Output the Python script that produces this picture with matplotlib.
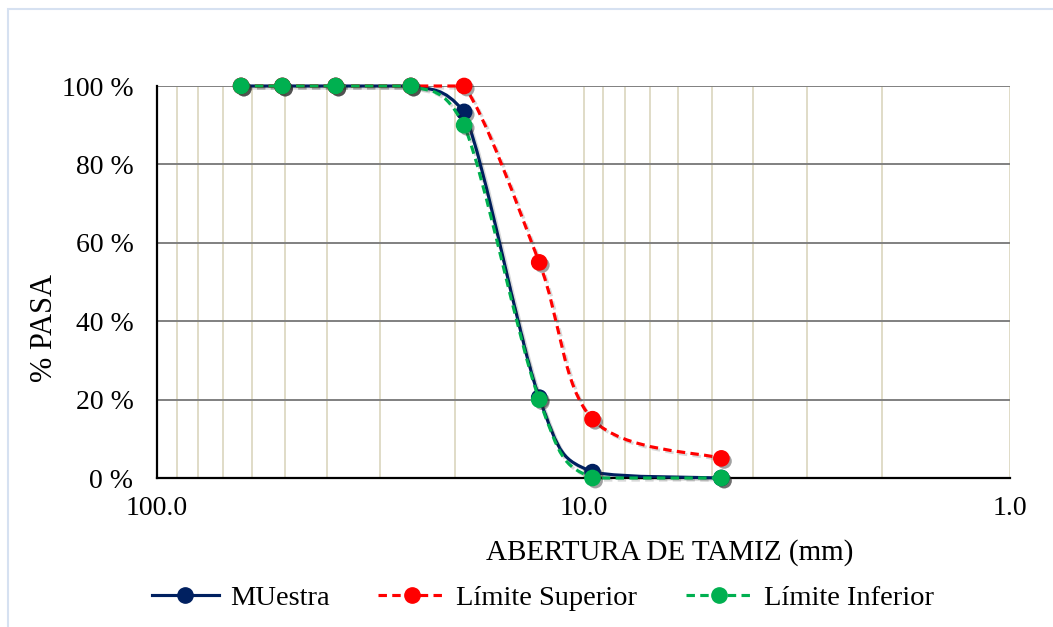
import numpy as np
import matplotlib
matplotlib.use('Agg')
import matplotlib.pyplot as plt
import matplotlib.patheffects as pe
from matplotlib.path import Path
from matplotlib.patches import PathPatch, Rectangle
from matplotlib.lines import Line2D
from matplotlib.ticker import FixedLocator, LogLocator, NullFormatter

# sieve openings (mm) and % passing
abertura = [63.5, 50.8, 38.1, 25.4, 19.05, 12.7, 9.525, 4.75]
muestra = [100, 100, 100, 100, 93.4, 20.5, 1.5, 0]
limite_superior = [100, 100, 100, 100, 100, 55, 15, 5]
limite_inferior = [100, 100, 100, 100, 90, 20, 0, 0]

series_names = ['MUestra', 'Límite Superior', 'Límite Inferior']
x_ticks = [100, 10, 1]
x_tick_labels = ['100.0', '10.0', '1.0']
y_ticks = [0, 20, 40, 60, 80, 100]
y_tick_labels = ['0 %', '20 %', '40 %', '60 %', '80 %', '100 %']

NAVY = '#002060'
RED = '#FF0000'
GREEN = '#00B050'


def smooth_path(x, y):
    '''
    Excel-like smoothed line: Catmull-Rom style bezier segments built in log-x space,
    control points kept inside each segment's y range (no overshoot)
    '''
    u = np.log10(np.asarray(x, float))
    v = np.asarray(y, float)
    n = len(u)
    verts = [(u[0], v[0])]
    codes = [Path.MOVETO]
    for i in range(n - 1):
        p0 = max(i - 1, 0)
        p3 = min(i + 2, n - 1)
        c1 = np.array([u[i] + (u[i + 1] - u[p0]) / 6, v[i] + (v[i + 1] - v[p0]) / 6])
        c2 = np.array([u[i + 1] - (u[p3] - u[i]) / 6, v[i + 1] - (v[p3] - v[i]) / 6])
        lo, hi = min(v[i], v[i + 1]), max(v[i], v[i + 1])
        c1[1] = np.clip(c1[1], lo, hi)
        c2[1] = np.clip(c2[1], lo, hi)
        verts += [tuple(c1), tuple(c2), (u[i + 1], v[i + 1])]
        codes += [Path.CURVE4] * 3
    verts = np.array(verts)
    verts[:, 0] = 10 ** verts[:, 0]
    return Path(verts, codes)


def main():
    plt.rcParams['font.family'] = 'Liberation Serif'
    fig = plt.figure(figsize=(10.53, 6.27), dpi=100)
    ax = fig.add_axes([157 / 1053, 1 - 478 / 627, 853 / 1053, 392 / 627])

    # light frame around the chart area
    fig.patches.append(Rectangle((8 / 1053, -0.1), 1.2, 1.1 - 9 / 627, transform=fig.transFigure,
                                 fill=False, edgecolor='#D6E1F1', lw=1.5, zorder=0))

    ax.set_xscale('log')
    ax.set_xlim(100, 1)
    ax.set_ylim(0, 100)

    styles = [
        (muestra, NAVY, '-'),
        (limite_superior, RED, (0, (2.7, 1.7))),
        (limite_inferior, GREEN, (0, (2.7, 1.7))),
    ]
    handles = []
    for k, (vals, col, ls) in enumerate(styles):
        patch = PathPatch(smooth_path(abertura, vals), fill=False, edgecolor=col, lw=2.25,
                          linestyle=ls, zorder=3 + k, clip_on=False)
        patch.set_path_effects([pe.SimpleLineShadow(offset=(1.5, -1.5), alpha=0.15), pe.Normal()])
        ax.add_patch(patch)
        ax.plot(abertura, vals, linestyle='none', marker='o', markersize=11, color=col,
                markeredgecolor=col, zorder=3 + k, clip_on=False,
                path_effects=[pe.SimplePatchShadow(offset=(2, -2), shadow_rgbFace='#303030', alpha=0.45),
                              pe.Normal()])
        handles.append(Line2D([], [], color=col, lw=2.25, linestyle=ls, marker='o', markersize=11))

    ax.xaxis.set_major_locator(FixedLocator(x_ticks))
    ax.set_xticklabels(x_tick_labels)
    ax.xaxis.set_minor_locator(LogLocator(base=10, subs=np.arange(2, 10)))
    ax.xaxis.set_minor_formatter(NullFormatter())
    ax.set_yticks(y_ticks)
    ax.set_yticklabels(y_tick_labels)
    ax.tick_params(axis='both', which='both', length=0, labelsize=20)
    ax.tick_params(axis='x', pad=13)
    ax.tick_params(axis='y', pad=17)

    ax.set_axisbelow(True)
    ax.grid(True, which='both', axis='x', color='#DDD9C3', lw=1.3)
    ax.grid(True, which='major', axis='y', color='#808080', lw=1.4)
    for s in ['top', 'right']:
        ax.spines[s].set_visible(False)
    for s in ['left', 'bottom']:
        ax.spines[s].set_color('black')
        ax.spines[s].set_linewidth(1.6)
        ax.spines[s].set_zorder(2.5)

    fig.text(670 / 1053, 1 - 553 / 627, 'ABERTURA DE TAMIZ (mm)', ha='center', va='center', fontsize=21)
    fig.text(45 / 1053, 1 - 328 / 627, '% PASA', ha='center', va='center', rotation=90, fontsize=22)

    fig.legend(handles, series_names, loc='center', bbox_to_anchor=(543 / 1053, 1 - 598 / 627),
               ncol=3, frameon=False, fontsize=20.5, handlelength=2.35, handletextpad=0.4,
               columnspacing=1.7, numpoints=1)

    fig.savefig('out.png', dpi=100, facecolor='white')


if __name__ == '__main__':
    main()
